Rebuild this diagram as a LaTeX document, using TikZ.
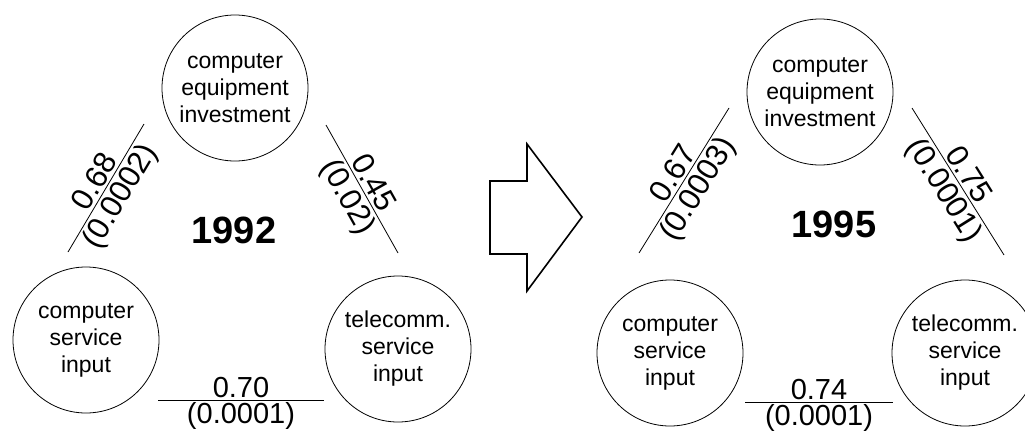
\documentclass[tikz,border=0pt]{standalone}
\usepackage{fontspec}
\setmainfont{Liberation Sans}
\begin{document}
\begin{tikzpicture}[x=1pt,y=-1pt,
  factor/.style={circle,draw,line width=0.8pt,minimum size=146pt,inner sep=0pt,align=center,
    font=\fontsize{23}{27}\selectfont},
  edgeline/.style={line width=0.8pt},
  elab/.style={inner sep=2pt,font=\fontsize{29}{34}\selectfont},
  slab/.style={inner sep=2.5pt,font=\fontsize{31}{36}\selectfont},
  yearlab/.style={font=\bfseries\fontsize{38}{40}\selectfont},
  bigarrow/.style={draw,line width=1.6pt,line join=miter}]
\useasboundingbox (0,0) rectangle (1025,434);

% ---------- 1992 ----------
\node[factor] (ce1) at (235,88) {computer\\equipment\\investment};
\node[factor] (cs1) at (86,340) {computer\\service\\input};
\node[factor] (ts1) at (398,349) {telecomm.\\service\\input};
\node[yearlab] (y1) at (234,230) {1992};

\coordinate (l1a) at (68,252);
\coordinate (l1b) at (144,124);
\coordinate (r1a) at (326,125);
\coordinate (r1b) at (398,253);
\coordinate (b1a) at (158,400);
\coordinate (b1b) at (324,400);

\draw[edgeline] (l1a) -- (l1b)
  node[midway,sloped,above,slab] {0.68}
  node[midway,sloped,below,slab] {(0.0002)};
\draw[edgeline] (r1a) -- (r1b)
  node[midway,sloped,above,slab] {0.45}
  node[midway,sloped,below,slab] {(0.02)};
\draw[edgeline] (b1a) -- (b1b)
  node[midway,above,elab] {0.70}
  node[midway,below,elab] {(0.0001)};

% ---------- arrow ----------
\draw[bigarrow] (490,181) -- (527,181) -- (527,144) -- (582,217) -- (527,291)
  -- (527,254) -- (490,254) -- cycle;

% ---------- 1995 ----------
\node[factor] (ce2) at (820,92) {computer\\equipment\\investment};
\node[factor] (cs2) at (670,353) {computer\\service\\input};
\node[factor] (ts2) at (965,353) {telecomm.\\service\\input};
\node[yearlab] (y2) at (834,224) {1995};

\coordinate (l2a) at (639,253);
\coordinate (l2b) at (729,108);
\coordinate (r2a) at (912,108);
\coordinate (r2b) at (1004,255);
\coordinate (b2a) at (745,402);
\coordinate (b2b) at (893,402);

\draw[edgeline] (l2a) -- (l2b)
  node[midway,sloped,above,slab] {0.67}
  node[midway,sloped,below,slab] {(0.0003)};
\draw[edgeline] (r2a) -- (r2b)
  node[midway,sloped,above,slab] {0.75}
  node[midway,sloped,below,slab] {(0.0001)};
\draw[edgeline] (b2a) -- (b2b)
  node[midway,above,elab] {0.74}
  node[midway,below,elab] {(0.0001)};
\end{tikzpicture}
\end{document}
